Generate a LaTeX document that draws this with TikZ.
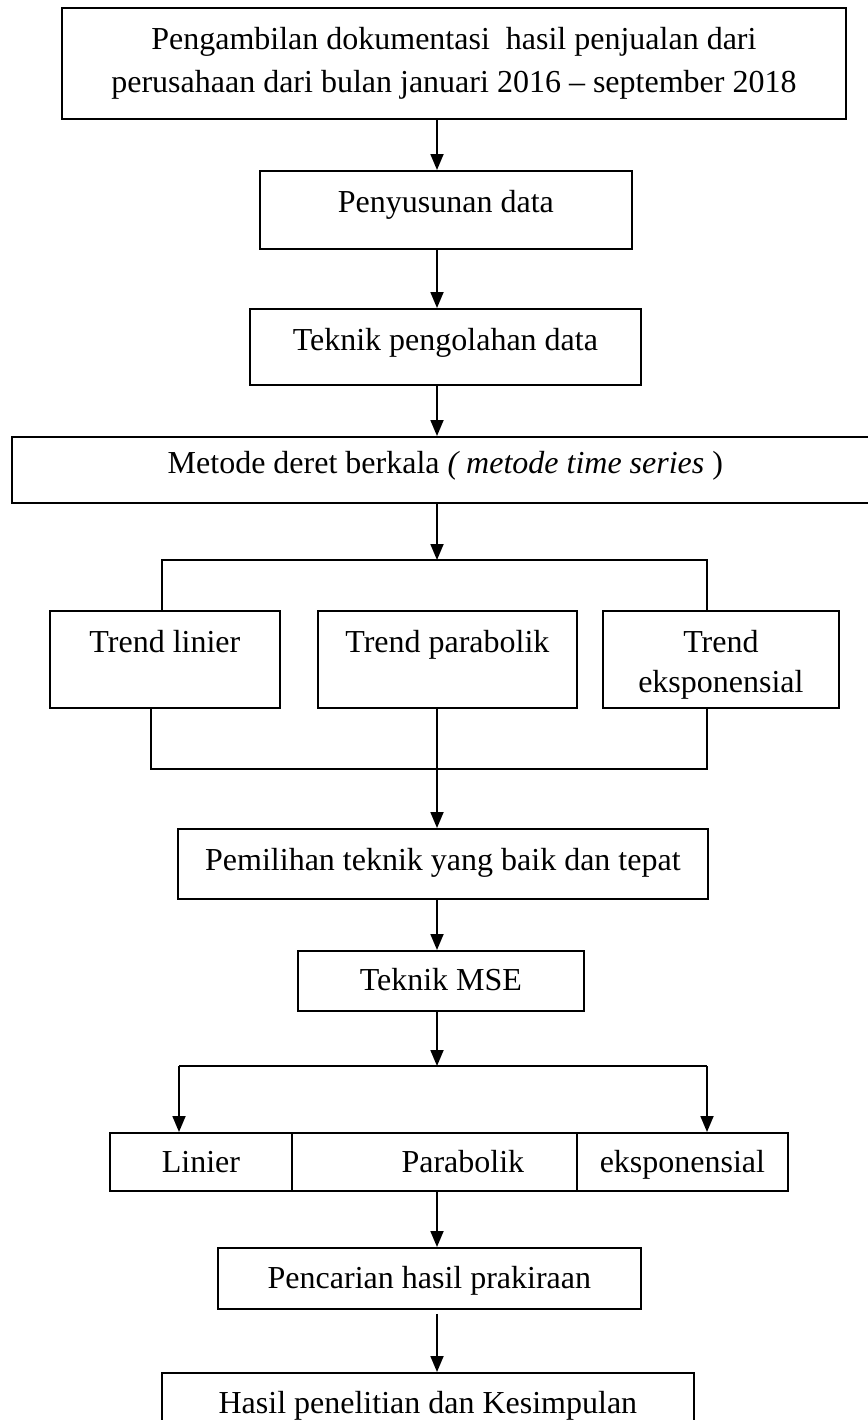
\documentclass[tikz,border=0pt]{standalone}
\usepackage{fontspec}
\setmainfont{Liberation Serif}
\usetikzlibrary{arrows.meta}

\tikzset{
  box/.style={draw, line width=0.9pt, inner xsep=0pt, inner ysep=0pt, anchor=north west, align=center,
    font=\fontsize{16pt}{21.5pt}\selectfont},
  arr/.style={line width=0.9pt, -{Triangle[length=8pt,width=6.5pt]}},
  link/.style={line width=0.9pt}
}

\begin{document}
\begin{tikzpicture}[x=0.5pt,y=0.5pt,yscale=-1,xscale=1]
\useasboundingbox (0,0) rectangle (868,1420);

% boxes
\node[box, minimum width=392pt, minimum height=55.5pt] (ambil) at (61,7) {Pengambilan dokumentasi~ hasil penjualan dari\\perusahaan dari bulan januari 2016 -- september 2018};
\node[box, minimum width=186pt, text height=21pt, text depth=18pt] (susun) at (259,170) {Penyusunan data};
\node[box, minimum width=195.5pt, text height=21pt, text depth=17pt] (olah) at (249,308) {Teknik pengolahan data};
\node[box, minimum width=433.5pt, text height=18.5pt, text depth=14.5pt] (metode) at (11,436) {Metode deret berkala \textit{( metode time series} )};

% trend boxes
\node[box, minimum width=115pt, text height=21pt, text depth=27.5pt] (linier) at (49,610) {Trend linier};
\node[box, minimum width=129.5pt, text height=21pt, text depth=27.5pt] (parab) at (317,610) {Trend parabolik};
\node[box, minimum width=118pt, minimum height=48.5pt, font=\fontsize{16pt}{20pt}\selectfont] (ekspo) at (602,610) {\rule{0pt}{16pt}Trend\\eksponensial};

\node[box, minimum width=265pt, text height=21pt, text depth=14pt] (pilih) at (177,828) {Pemilihan teknik yang baik dan tepat};
\node[box, minimum width=143pt, text height=20pt, text depth=10pt] (mse) at (297,950) {Teknik MSE};

% result row
\node[box, minimum width=91pt, text height=20pt, text depth=9pt] (rlin) at (109,1132) {Linier};
\node[box, minimum width=142.5pt, text height=20pt, text depth=9pt] (rpar) at (291,1132) {\hspace*{28.5pt}Parabolik};
\node[box, minimum width=105.5pt, text height=20pt, text depth=9pt] (reks) at (576,1132) {eksponensial};

\node[box, minimum width=211.5pt, text height=20.5pt, text depth=10pt] (cari) at (217,1247) {Pencarian hasil prakiraan};
\node[box, minimum width=266pt, text height=20.5pt, text depth=14pt] (hasil) at (161,1372) {Hasil penelitian dan Kesimpulan};

% connectors
\coordinate (spine) at (437,0);
\coordinate (ua) at (437,560);
\coordinate (ul) at (162,560);
\coordinate (ur) at (707,560);
\coordinate (ll) at (151,769);
\coordinate (lr) at (707,769);
\coordinate (ma) at (437,1066);
\coordinate (ml) at (179,1066);
\coordinate (mr) at (707,1066);

\draw[arr] (ambil.south -| spine) -- (susun.north -| spine);
\draw[arr] (susun.south -| spine) -- (olah.north -| spine);
\draw[arr] (olah.south -| spine) -- (metode.north -| spine);
\draw[arr] (metode.south -| spine) -- (ua);
\draw[link] (linier.north -| ul) -- (ul) -- (ur) -- (ekspo.north -| ur);
\draw[link] (linier.south -| ll) -- (ll) -- (lr) -- (ekspo.south -| lr);
\draw[arr] (parab.south -| spine) -- (pilih.north -| spine);
\draw[arr] (pilih.south -| spine) -- (mse.north -| spine);
\draw[arr] (mse.south -| spine) -- (ma);
\draw[link] (ml) -- (mr);
\draw[arr] (ml) -- (rlin.north -| ml);
\draw[arr] (mr) -- (reks.north -| mr);
\draw[arr] (rpar.south -| spine) -- (cari.north -| spine);
\draw[arr, shorten <=2pt] (cari.south -| spine) -- (hasil.north -| spine);

\end{tikzpicture}
\end{document}
